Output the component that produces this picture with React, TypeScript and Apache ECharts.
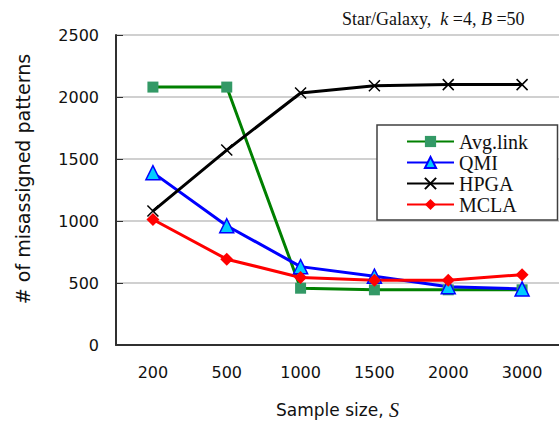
import React, { useEffect, useRef } from "react";
import * as echarts from "echarts";

const categories = ["200", "500", "1000", "1500", "2000", "3000"];
const avgLink = [2080, 2080, 458, 445, 445, 445];
const qmi = [1390, 962, 632, 555, 470, 452];
const hpga = [1080, 1572, 2032, 2090, 2100, 2100];
const mcla = [1012, 692, 545, 522, 522, 567];
const yTicks = { min: 0, max: 2500, interval: 500 };

export default function App() {
  const ref = useRef<HTMLDivElement>(null);
  useEffect(() => {
    if (!ref.current) return;
    const chart = echarts.init(ref.current, null, { renderer: "svg" });
    const sans = "DejaVu Sans";
    const serif = "Liberation Serif";
    chart.setOption({
      animation: false,
      backgroundColor: "#fff",
      title: {
        text: "{n|Star/Galaxy,  }{i|k}{n| =4, }{i|B}{n| =50}",
        left: 337,
        top: 5,
        textStyle: {
          fontWeight: "normal",
          rich: {
            n: { fontFamily: serif, fontSize: 18, fontWeight: "normal", color: "#111" },
            i: { fontFamily: serif, fontSize: 18, fontWeight: "normal", fontStyle: "italic", color: "#111" },
          },
        },
      },
      graphic: [
        {
          type: "text",
          x: 23,
          y: 179,
          rotation: Math.PI / 2,
          style: {
            text: "# of misassigned patterns",
            fontFamily: sans,
            fontSize: 19,
            fill: "#111",
            textAlign: "center",
            textVerticalAlign: "middle",
          },
        },
        {
          type: "rect",
          z: 3,
          shape: { x: 377, y: 125, width: 180.5, height: 95 },
          style: { fill: "#fff", stroke: "#404040", lineWidth: 1.5 },
        },
      ],
      legend: {
        left: 377,
        top: 125,
        z: 5,
        orient: "vertical",
        itemWidth: 47,
        itemHeight: 14,
        itemGap: 0,
        padding: [6, 10, 5, 29],
        textStyle: { fontFamily: serif, fontSize: 20, lineHeight: 21, color: "#111" },
        data: ["Avg.link", "QMI", "HPGA", "MCLA"],
      },
      grid: { left: 116, top: 35, width: 447, height: 311, containLabel: false },
      xAxis: {
        type: "category",
        data: categories,
        boundaryGap: true,
        name: "{n|Sample size, }{i|S}",
        nameLocation: "middle",
        nameGap: 55,
        nameTextStyle: {
          rich: {
            n: { fontFamily: sans, fontSize: 17, color: "#111" },
            i: { fontFamily: serif, fontSize: 20, fontStyle: "italic", color: "#111" },
          },
        },
        axisLine: { lineStyle: { color: "#303030", width: 2 } },
        axisTick: { inside: true, length: 5, lineStyle: { color: "#303030", width: 1 } },
        axisLabel: { fontFamily: sans, fontSize: 16, color: "#111", margin: 19 },
        splitLine: { show: false },
      },
      yAxis: {
        type: "value",
        min: yTicks.min,
        max: yTicks.max,
        interval: yTicks.interval,
        axisLine: { show: true, lineStyle: { color: "#303030", width: 2 } },
        axisTick: { show: true, inside: true, length: 7, lineStyle: { color: "#303030", width: 1 } },
        axisLabel: {
          fontFamily: sans,
          fontSize: 16,
          color: "#111",
          margin: 17,
          formatter: (v: number) => String(v),
        },
        splitLine: { show: true, lineStyle: { color: "#c0c0c0", width: 1.5 } },
      },
      series: [
        {
          name: "Avg.link",
          type: "line",
          data: avgLink,
          symbol: "rect",
          symbolSize: 11,
          lineStyle: { color: "#008000", width: 3 },
          itemStyle: { color: "#339966" },
        },
        {
          name: "QMI",
          type: "line",
          data: qmi,
          symbol: "triangle",
          symbolSize: 14,
          lineStyle: { color: "#0000ff", width: 3 },
          itemStyle: { color: "#00ccff", borderColor: "#0000ff", borderWidth: 1.5 },
        },
        {
          name: "HPGA",
          type: "line",
          data: hpga,
          symbol: "path://M0,0L10,10M10,0L0,10",
          symbolSize: 11,
          lineStyle: { color: "#000", width: 3 },
          itemStyle: { color: "#000", borderColor: "#000", borderWidth: 1.5 },
        },
        {
          name: "MCLA",
          type: "line",
          data: mcla,
          symbol: "diamond",
          symbolSize: 13,
          lineStyle: { color: "#ff0000", width: 3 },
          itemStyle: { color: "#ff0000" },
        },
      ],
    });
    return () => chart.dispose();
  }, []);
  return (
    <div
      ref={ref}
      style={{ position: "absolute", left: 0, top: 0, width: 559, height: 425, overflow: "hidden" }}
    />
  );
}
